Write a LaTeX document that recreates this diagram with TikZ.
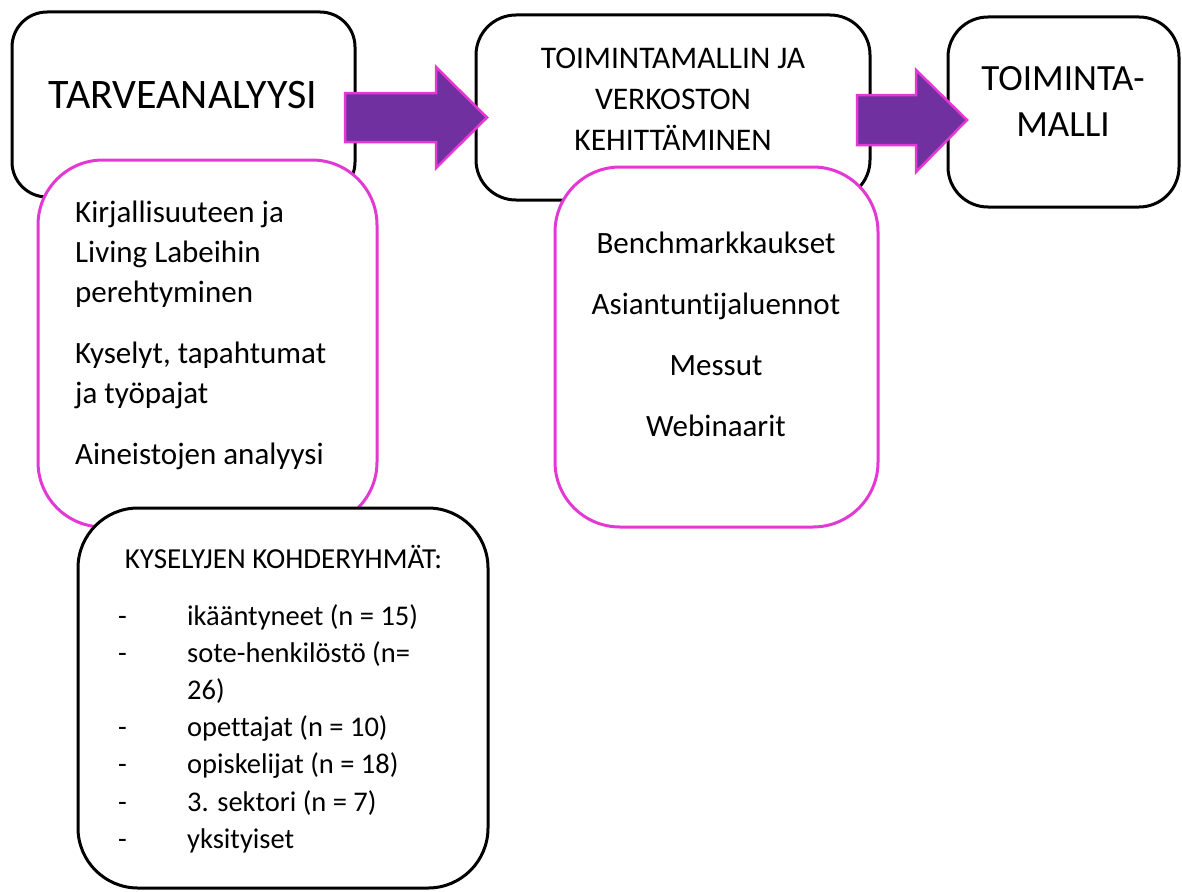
\documentclass[tikz,border=0pt]{standalone}
\usepackage{fontspec}
\setmainfont{Carlito}[Ligatures=CommonOff]
\definecolor{phasepurple}{HTML}{7030A0}
\definecolor{phasepink}{RGB}{228,56,212}
\tikzset{
  blackbox/.style={draw=black, line width=3pt, fill=white, rectangle, inner sep=0pt},
  pinkbox/.style={draw=phasepink, line width=3pt, fill=white, rectangle, inner sep=0pt, rounded corners=65pt},
  blockarrow/.style={draw=phasepink, line width=2.5pt, fill=phasepurple, line join=miter},
  txt/.style={inner sep=0pt, anchor=base}
}
\begin{document}
\begin{tikzpicture}[x=1pt, y=-1pt]
\useasboundingbox (0,0) rectangle (1182,891);

% phase boxes
\node[blackbox, rounded corners=35pt, minimum width=343pt, minimum height=185pt] (tarve) at (183.5,104.5) {};
\node[blackbox, rounded corners=40pt, minimum width=394pt, minimum height=185pt] (kehitys) at (673,107.5) {};
\node[blackbox, rounded corners=40pt, minimum width=231pt, minimum height=190pt] (malli) at (1063.5,112) {};

% activity boxes
\node[pinkbox, minimum width=339pt, minimum height=367pt] (tarvetyo) at (207.5,343.5) {};
\node[pinkbox, minimum width=323pt, minimum height=360pt] (kehitystyo) at (716.5,347) {};

% survey target groups
\node[blackbox, rounded corners=60pt, minimum width=410pt, minimum height=380pt] (kohde) at (283,698) {};

% block arrows between the phases
\draw[blockarrow] (345,93) -- (436,93) -- (436,67) -- (487,117.5) -- (436,168) -- (436,142) -- (345,142) -- cycle;
\draw[blockarrow] (857,95) -- (916,95) -- (916,70) -- (967,120) -- (916,172) -- (916,145) -- (857,145) -- cycle;

% texts
\node[txt] (tarvetxt) at (183,108) {\fontsize{42}{50}\selectfont TARVEANALYYSI};
\node[txt] (kehitystxt) at (673,68) {\parbox[t]{390pt}{\centering\fontsize{31.5}{41}\selectfont TOIMINTAMALLIN JA\\VERKOSTON\\KEHITTÄMINEN}};
\node[txt] (mallitxt) at (1063,90) {\parbox[t]{225pt}{\centering\fontsize{37}{46}\selectfont TOIMINTA-\\MALLI}};

\node[txt, anchor=base west] (tarvetyotxt) at (75,222) {\parbox[t]{300pt}{\raggedright\fontsize{31}{40}\selectfont
  Kirjallisuuteen ja\\Living Labeihin\\perehtyminen\\[21pt]Kyselyt, tapahtumat\\ja työpajat\\[21pt]Aineistojen analyysi}};

\node[txt] (kehitystyotxt) at (716,253) {\parbox[t]{320pt}{\centering\fontsize{31}{61.3}\selectfont
  Benchmarkkaukset\\Asiantuntijaluennot\\Messut\\Webinaarit}};

\node[txt] (kohdeotsikko) at (283.5,568) {\fontsize{29}{34}\selectfont KYSELYJEN KOHDERYHMÄT:};
\node[txt, anchor=base west] (kohdelista) at (118,625) {\parbox[t]{360pt}{\raggedright\fontsize{28.5}{37.2}\selectfont
  \makebox[69pt][l]{-}ikääntyneet (n = 15)\\
  \makebox[69pt][l]{-}sote-henkilöstö (n=\\
  \makebox[69pt][l]{}26)\\
  \makebox[69pt][l]{-}opettajat (n = 10)\\
  \makebox[69pt][l]{-}opiskelijat (n = 18)\\
  \makebox[69pt][l]{-}3. sektori (n = 7)\\
  \makebox[69pt][l]{-}yksityiset}};
\end{tikzpicture}
\end{document}
